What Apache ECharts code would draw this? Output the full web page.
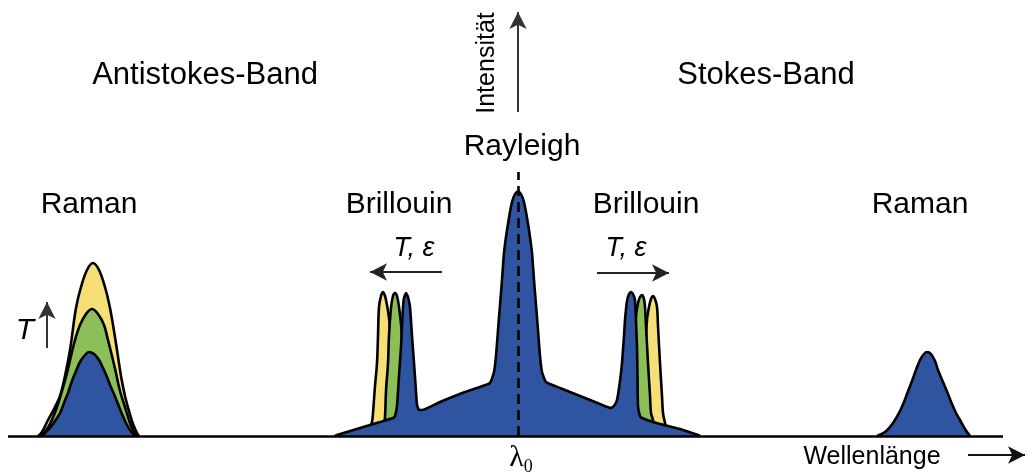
<!DOCTYPE html>
<html>
<head>
<meta charset="utf-8">
<script src="https://cdn.jsdelivr.net/npm/echarts@6/dist/echarts.min.js"></script>
<style>
  html, body { margin: 0; padding: 0; background: #fff; }
  #main { width: 1027px; height: 475px; }
</style>
</head>
<body>
<div id="main"></div>
<script>
// Wellenlänge (x) / Intensität (y) pairs
const ramanLeftYellow = [[38,0],[42,4],[48,16],[54,27],[60,40],[65,60],[70,86],[76,128],[81,149],[87,166],[93,173],[99,166],[105,149],[110,128],[114,105],[117,86],[121,60],[125,40],[129,25],[133,12],[137,3],[139,0]]
const ramanLeftGreen = [[41,0],[44,3],[50,12],[57,29],[62,45],[67,63],[71,80],[75,96],[80,111],[86,122],[92,127],[98,122],[104,111],[108,96],[112,80],[116,63],[120,45],[125,29],[130,13],[134,4],[137,0]]
const ramanLeftBlue = [[41,0],[45,3],[50,8],[55,15],[60,23],[64,33],[68,43],[72,55],[76,65],[80,74],[85,81],[89,84],[94,82],[99,76],[103,68],[107,59],[110,51],[114,42],[118,32],[122,22],[126,13],[130,6],[135,0]]
const ramanRightBlue = [[877,0],[885,4],[890,9],[895,16],[900,25],[904,34],[907,42],[912,55],[916,66],[920,76],[924,82],[927,84],[931,82],[935,75],[938,66],[943,54],[948,42],[952,32],[956,23],[960,16],[965,7],[970,0]]

const brillLeftYellow = [[366,0],[370,8],[372,14],[373,23],[375,50],[377,73],[378,100],[379,129],[381,140],[383,144],[385,140],[387,131],[389,118],[391,95],[393,60],[395,25],[397,0]]
const brillLeftGreen = [[381,0],[384,12],[385,19],[386,45],[388,73],[389,100],[391,128],[393,140],[395,143],[397,140],[399,129],[401,112],[403,85],[405,50],[407,20],[409,0]]
const brillRightGreen = [[632,0],[634,80],[636,120],[638,133],[640,139],[642,141],[644,137],[645,129],[646,110],[648,73],[650,40],[651,23],[653,16],[655,0]]
const brillRightYellow = [[643,0],[645,80],[647,116],[649,129],[651,137],[653,140],[655,137],[657,129],[658,110],[660,73],[662,40],[663,23],[665,13],[667,6],[669,0]]

const rayleighBlue = [[335,0],[337,1],[360,8],[380,14],[393,18],[395,20],[397,30],[399,60],[401,89],[402,110],[403,129],[404,138],[406,143],[408,139],[410,129],[412,100],[414,73],[416,45],[417,31],[419,26],[422,26],
  [440,34],[465,44],[480,49],[490,53],[494,64],[496,80],[498,106],[500,131],[502,156],[504,183],[507,206],[510,224],[512,234],[515,242],[518,245],
  [521,242],[524,234],[526,224],[529,206],[532,183],[534,156],[536,131],[538,106],[540,80],[542,64],[546,54],
  [560,48],[585,38],[600,32],[611,28],[614,30],[617,36],[620,55],[622,73],[624,100],[625,116],[627,135],[629,142],[631,144],[633,142],[635,136],[636,115],[637,89],[637.5,60],[638,30],[640,20],[642,18],
  [660,12],[680,7],[698,1],[700,0]]

const lambda0 = 518
const yellow = '#f7df78'
const green = '#8cbf58'
const blue = '#2f55a0'
const font = "'Liberation Sans', Arial, sans-serif"

function peak(data, color, z) {
  return {
    type: 'line',
    data: data,
    z: z,
    smooth: 0.35,
    symbol: 'none',
    silent: true,
    lineStyle: { color: '#000', width: 2.6 },
    areaStyle: { color: color, opacity: 1 }
  }
}

function arrow(from, to, color) {
  return [
    { coord: from, symbol: 'none' },
    { coord: to, symbol: 'arrow', symbolSize: [13, 17], lineStyle: { color: color, width: 2, type: 'solid' } }
  ]
}

function label(text, x, y, size, extra) {
  return {
    type: 'text', x: x, y: y, silent: true,
    style: Object.assign({
      text: text, fontSize: size, fontFamily: font, fill: '#000',
      textAlign: 'center', textVerticalAlign: 'middle'
    }, extra || {})
  }
}

const myChart = echarts.init(document.getElementById('main'))
const option = {
  animation: false,
  grid: { left: 0, right: 0, top: 0, bottom: 0 },
  xAxis: { type: 'value', min: 0, max: 1027, show: false },
  yAxis: { type: 'value', min: -39, max: 436, show: false },
  series: [
    peak(ramanLeftYellow, yellow, 2),
    peak(brillLeftYellow, yellow, 2),
    peak(brillRightYellow, yellow, 2),
    peak(ramanLeftGreen, green, 3),
    peak(brillLeftGreen, green, 3),
    peak(brillRightGreen, green, 3),
    peak(ramanLeftBlue, blue, 4),
    peak(ramanRightBlue, blue, 4),
    Object.assign(peak(rayleighBlue, blue, 4), {
      smooth: 0.15,
      markLine: {
        silent: true,
        z: 6,
        label: { show: false },
        lineStyle: { color: '#000', width: 2.6, type: 'solid' },
        data: [
          [{ coord: [8, 0], symbol: 'none' }, { coord: [1003, 0], symbol: 'none' }],
          [{ coord: [lambda0, 0], symbol: 'none' }, { coord: [lambda0, 264], symbol: 'none', lineStyle: { type: [10, 6], width: 2.6, color: '#000' } }],
          arrow([lambda0, 324], [lambda0, 424], '#333'),
          arrow([442, 164], [370, 164], '#222'),
          arrow([597, 163], [669, 163], '#222'),
          arrow([47, 88], [47, 134], '#333'),
          arrow([968, -19], [1025, -19], '#111')
        ]
      }
    })
  ],
  graphic: [
    label('Antistokes-Band', 205, 75, 31),
    label('Stokes-Band', 766, 75, 31),
    label('Rayleigh', 522, 147, 30),
    label('Brillouin', 399, 205, 30),
    label('Brillouin', 646, 205, 30),
    label('Raman', 89, 205, 30),
    label('Raman', 920, 205, 30),
    label('T, ε', 414, 248, 27, { fontStyle: 'italic' }),
    label('T, ε', 626, 248, 27, { fontStyle: 'italic' }),
    label('T', 25, 331, 30, { fontStyle: 'italic' }),
    label('Wellenlänge', 872, 457, 25),
    {
      type: 'text', x: 487, y: 63, rotation: Math.PI / 2, silent: true,
      style: { text: 'Intensität', fontSize: 25, fontFamily: font, fill: '#000', textAlign: 'center', textVerticalAlign: 'middle' }
    },
    {
      type: 'text', x: 521, y: 458, silent: true,
      style: {
        text: '{l|λ}{s|0}', textAlign: 'center', textVerticalAlign: 'middle',
        rich: {
          l: { fontSize: 30, fontFamily: "'Liberation Serif', serif", fill: '#000' },
          s: { fontSize: 18, fontFamily: "'Liberation Serif', serif", fill: '#000', padding: [18, 0, 0, 0] }
        }
      }
    }
  ]
}
myChart.setOption(option)
window.onresize = function () {
  myChart.resize()
}
</script>
</body>
</html>
